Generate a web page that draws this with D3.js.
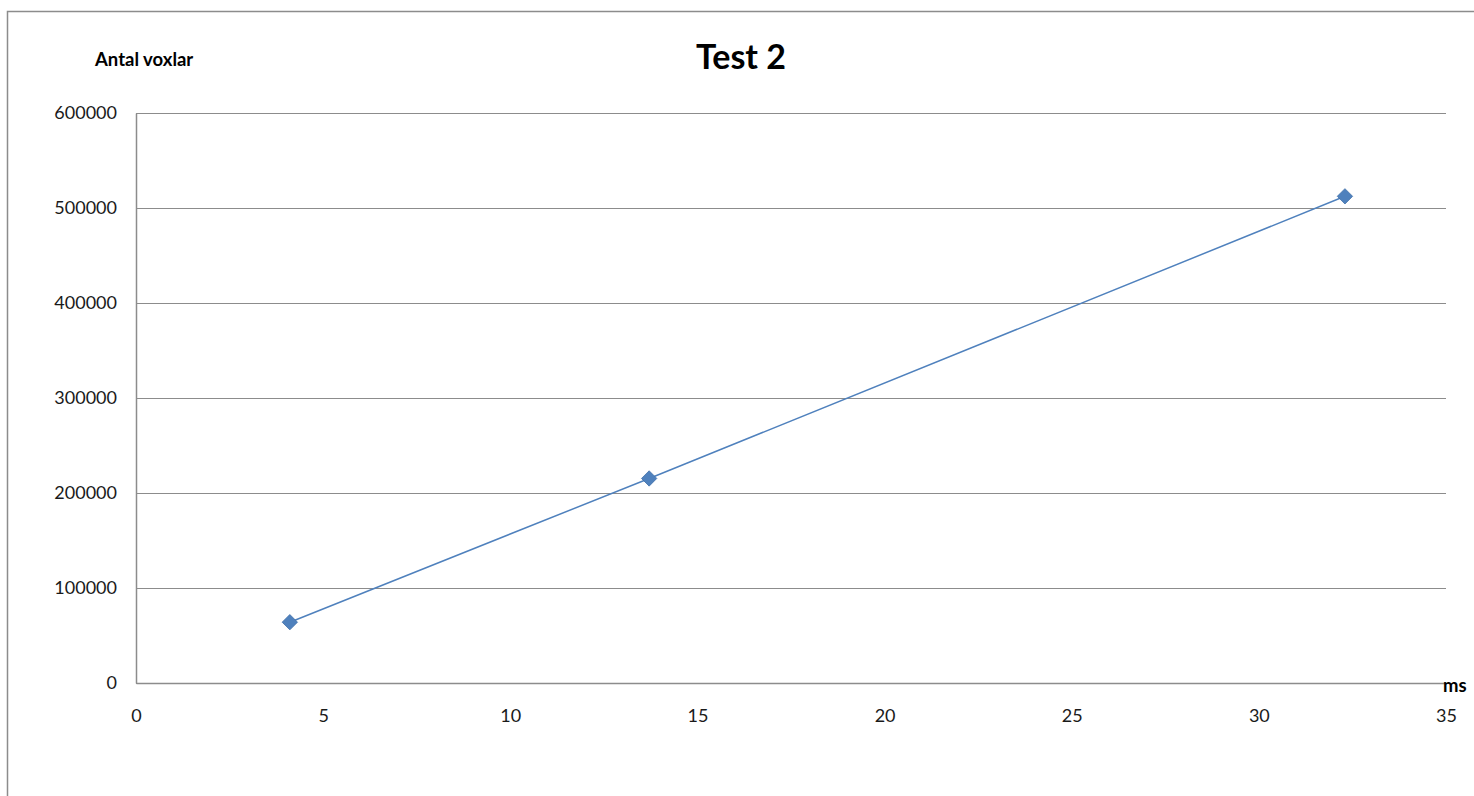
<!DOCTYPE html>
<html>
<head>
<meta charset="utf-8">
<script src="https://cdn.jsdelivr.net/npm/d3@7"></script>
<style>
  body { margin: 0; background: #fff; }
  svg { display: block; font-family: Lato, "Open Sans", sans-serif; }
</style>
</head>
<body>
<svg id="chart" width="1474" height="796"></svg>
<script>
// data
const msValues = [4.11, 13.71, 32.3];
const voxelValues = [64000, 215300, 512300];
const xTicks = [0, 5, 10, 15, 20, 25, 30, 35];
const yTicks = [0, 100000, 200000, 300000, 400000, 500000, 600000];

const points = msValues.map((d, i) => ({ x: d, y: voxelValues[i] }));

const margin = { top: 113, right: 28, bottom: 113, left: 136 };
const width = 1474 - margin.left - margin.right;
const height = 796 - margin.top - margin.bottom;
const font = 'Lato, "Open Sans", sans-serif';

const svg = d3.select('#chart');

// outer chart frame
svg.append('rect')
  .attr('x', 7.5).attr('y', 11.5)
  .attr('width', 1480).attr('height', 800)
  .attr('fill', 'none')
  .attr('stroke', '#8c8c8c')
  .attr('stroke-width', 1.5);

const g = svg.append('g')
  .attr('transform', `translate(${margin.left},${margin.top})`);

const x = d3.scaleLinear().domain([0, 35]).range([0, width]);
const y = d3.scaleLinear().domain([0, 600000]).range([height, 0]);

// horizontal gridlines
g.append('g')
  .selectAll('line')
  .data(yTicks)
  .enter()
  .append('line')
  .attr('x1', 0).attr('x2', width)
  .attr('y1', d => Math.round(y(d)) + 0.5)
  .attr('y2', d => Math.round(y(d)) + 0.5)
  .attr('stroke', '#8c8c8c')
  .attr('stroke-width', 1.2);

// y axis
const yAxis = g.append('g')
  .call(d3.axisLeft(y).tickValues(yTicks).tickSize(0).tickPadding(19).tickFormat(d3.format('d')))
  .attr('font-family', font)
  .attr('font-size', 18);
yAxis.select('.domain').attr('stroke', '#8c8c8c').attr('stroke-width', 1.5);
yAxis.selectAll('text').attr('fill', '#1a1a1a');

// x axis
const xAxis = g.append('g')
  .attr('transform', `translate(0,${height})`)
  .call(d3.axisBottom(x).tickValues(xTicks).tickSize(0).tickPadding(26).tickFormat(d3.format('d')))
  .attr('font-family', font)
  .attr('font-size', 18);
xAxis.select('.domain').attr('stroke', '#8c8c8c').attr('stroke-width', 1.5);
xAxis.selectAll('text').attr('fill', '#1a1a1a');

// series line
const line = d3.line().x(d => x(d.x)).y(d => y(d.y));
g.append('path')
  .datum(points)
  .attr('d', line)
  .attr('fill', 'none')
  .attr('stroke', '#4f81bd')
  .attr('stroke-width', 1.5);

// diamond markers
g.selectAll('.marker')
  .data(points)
  .enter()
  .append('path')
  .attr('class', 'marker')
  .attr('d', d3.symbol().type(d3.symbolDiamond2).size(150))
  .attr('transform', d => `translate(${x(d.x)},${y(d.y)})`)
  .attr('fill', '#4f81bd')
  .attr('stroke', '#3f6fa8')
  .attr('stroke-width', 0.8);

// title and axis titles
svg.append('text')
  .attr('x', 741).attr('y', 69)
  .attr('text-anchor', 'middle')
  .attr('font-size', 34)
  .attr('font-weight', 'bold')
  .attr('fill', '#000')
  .text('Test 2');

svg.append('text')
  .attr('x', 95).attr('y', 66)
  .attr('font-size', 18.5)
  .attr('font-weight', 'bold')
  .attr('fill', '#000')
  .text('Antal voxlar');

svg.append('text')
  .attr('x', 1443).attr('y', 692)
  .attr('font-size', 18.5)
  .attr('font-weight', 'bold')
  .attr('fill', '#000')
  .text('ms');
</script>
</body>
</html>
